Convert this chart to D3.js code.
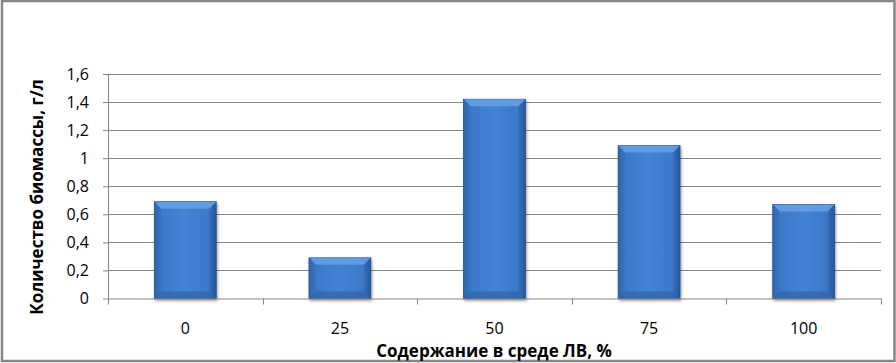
<!DOCTYPE html>
<html>
<head>
<meta charset="utf-8">
<script src="https://cdn.jsdelivr.net/npm/d3@7"></script>
<style>
  body { margin: 0; background: #fff; }
  text { font-family: "Open Sans", "Noto Sans", sans-serif; fill: #000; }
</style>
</head>
<body>
<svg class="chart"></svg>
<script>
const categories = ["0", "25", "50", "75", "100"];
const values = [0.69, 0.29, 1.42, 1.09, 0.67];
const yTicks = [0, 0.2, 0.4, 0.6, 0.8, 1, 1.2, 1.4, 1.6];

const W = 896, H = 363;
const margin = {top: 74, right: 15, bottom: 64, left: 108};
const width = 881 - margin.left;
const height = 298.5 - margin.top;

const svg = d3.select('.chart')
  .attr('width', W)
  .attr('height', H);

// outer frame
svg.append('rect')
  .attr('x', 2).attr('y', 1)
  .attr('width', 892.5).attr('height', 360)
  .attr('fill', 'none')
  .attr('stroke', '#868686')
  .attr('stroke-width', 2.5);

const defs = svg.append('defs');
const grad = defs.append('linearGradient')
  .attr('id', 'barGrad')
  .attr('x1', 0).attr('x2', 1).attr('y1', 0).attr('y2', 0);
grad.append('stop').attr('offset', '0%').attr('stop-color', '#2f66ae');
grad.append('stop').attr('offset', '10%').attr('stop-color', '#3b79c8');
grad.append('stop').attr('offset', '50%').attr('stop-color', '#4383d4');
grad.append('stop').attr('offset', '90%').attr('stop-color', '#3b79c8');
grad.append('stop').attr('offset', '100%').attr('stop-color', '#2b5c9f');

const shadow = defs.append('filter').attr('id', 'shadow')
  .attr('x', '-20%').attr('y', '-20%').attr('width', '140%').attr('height', '140%');
shadow.append('feGaussianBlur').attr('in', 'SourceAlpha').attr('stdDeviation', 1.5);
shadow.append('feOffset').attr('dx', 1).attr('dy', 1.5).attr('result', 'b');
shadow.append('feComponentTransfer').append('feFuncA').attr('type', 'linear').attr('slope', 0.4);
const merge = shadow.append('feMerge');
merge.append('feMergeNode');
merge.append('feMergeNode').attr('in', 'SourceGraphic');

const chart = svg.append('g')
  .attr('transform', `translate(${margin.left}, ${margin.top})`);

const x = d3.scaleBand()
  .domain(categories)
  .range([0, width])
  .paddingInner(0.6)
  .paddingOuter(0.3);

const xb = d3.scaleBand()
  .domain(categories)
  .range([0, width]);

const y = d3.scaleLinear()
  .domain([0, 1.6])
  .range([height, 0]);

// gridlines
chart.append('g')
  .selectAll('line')
  .data(yTicks.slice(1))
  .enter()
.append('line')
  .attr('x1', 0)
  .attr('x2', width)
  .attr('y1', d => Math.round(y(d)) + 0.5)
  .attr('y2', d => Math.round(y(d)) + 0.5)
  .attr('stroke', '#868686');

const fmt = d => String(d).replace('.', ',');

const yAxis = chart.append('g')
  .call(d3.axisLeft(y).tickValues(yTicks).tickFormat(fmt).tickSize(5).tickPadding(14));
yAxis.select('.domain').attr('stroke', '#868686').attr('d', `M0.5,0V${height}`);
yAxis.selectAll('.tick line').attr('stroke', '#868686');
yAxis.selectAll('.tick text').style('font-size', '16px').attr('fill', '#000');

// bars
const bar = chart.selectAll('.bar')
  .data(values)
  .enter()
.append('g')
  .attr('class', 'bar')
  .attr('filter', 'url(#shadow)');

const bw = x.bandwidth();
const bev = 7;

bar.append('rect')
  .attr('x', (d, i) => x(categories[i]))
  .attr('y', d => y(d))
  .attr('width', bw)
  .attr('height', d => height - y(d))
  .attr('fill', 'url(#barGrad)')
  .attr('stroke', '#24508c')
  .attr('stroke-width', 0.8);

// top bevel
bar.append('path')
  .attr('d', (d, i) => {
    const x0 = x(categories[i]), y0 = y(d);
    return `M${x0},${y0}H${x0 + bw}L${x0 + bw - bev},${y0 + bev}H${x0 + bev}Z`;
  })
  .attr('fill', '#6aa3e6')
  .attr('opacity', 0.8);

// bottom bevel
bar.append('path')
  .attr('d', (d, i) => {
    const x0 = x(categories[i]), y1 = height;
    return `M${x0},${y1}H${x0 + bw}L${x0 + bw - bev},${y1 - bev}H${x0 + bev}Z`;
  })
  .attr('fill', '#2c5c9e')
  .attr('opacity', 0.55);

// side bevels
bar.append('path')
  .attr('d', (d, i) => {
    const x0 = x(categories[i]), y0 = y(d);
    return `M${x0},${y0}L${x0 + bev},${y0 + bev}V${height - bev}L${x0},${height}Z`;
  })
  .attr('fill', '#2d63aa')
  .attr('opacity', 0.25);
bar.append('path')
  .attr('d', (d, i) => {
    const x1 = x(categories[i]) + bw, y0 = y(d);
    return `M${x1},${y0}L${x1 - bev},${y0 + bev}V${height - bev}L${x1},${height}Z`;
  })
  .attr('fill', '#22508f')
  .attr('opacity', 0.3);

// x axis
const xAxis = chart.append('g')
  .attr('transform', `translate(0, ${height})`);
xAxis.append('line')
  .attr('x1', 0).attr('x2', width)
  .attr('y1', 0.5).attr('y2', 0.5)
  .attr('stroke', '#868686');
xAxis.selectAll('.xt')
  .data(categories.concat(['end']))
  .enter()
.append('line')
  .attr('x1', (d, i) => Math.round(i < categories.length ? xb(d) : width) + 0.5)
  .attr('x2', (d, i) => Math.round(i < categories.length ? xb(d) : width) + 0.5)
  .attr('y1', 0).attr('y2', 6)
  .attr('stroke', '#868686');
xAxis.selectAll('.xl')
  .data(categories)
  .enter()
.append('text')
  .attr('x', d => xb(d) + xb.bandwidth() / 2)
  .attr('y', 35)
  .attr('text-anchor', 'middle')
  .style('font-size', '16px')
  .text(d => d);

// axis titles
svg.append('text')
  .attr('x', 494)
  .attr('y', 357)
  .attr('text-anchor', 'middle')
  .style('font-size', '17px')
  .style('font-weight', 'bold')
  .text('Содержание в среде ЛВ, %');

svg.append('text')
  .attr('transform', 'translate(43, 197) rotate(-90)')
  .attr('text-anchor', 'middle')
  .style('font-size', '17px')
  .style('font-weight', 'bold')
  .text('Количество биомассы, г/л');
</script>
</body>
</html>
